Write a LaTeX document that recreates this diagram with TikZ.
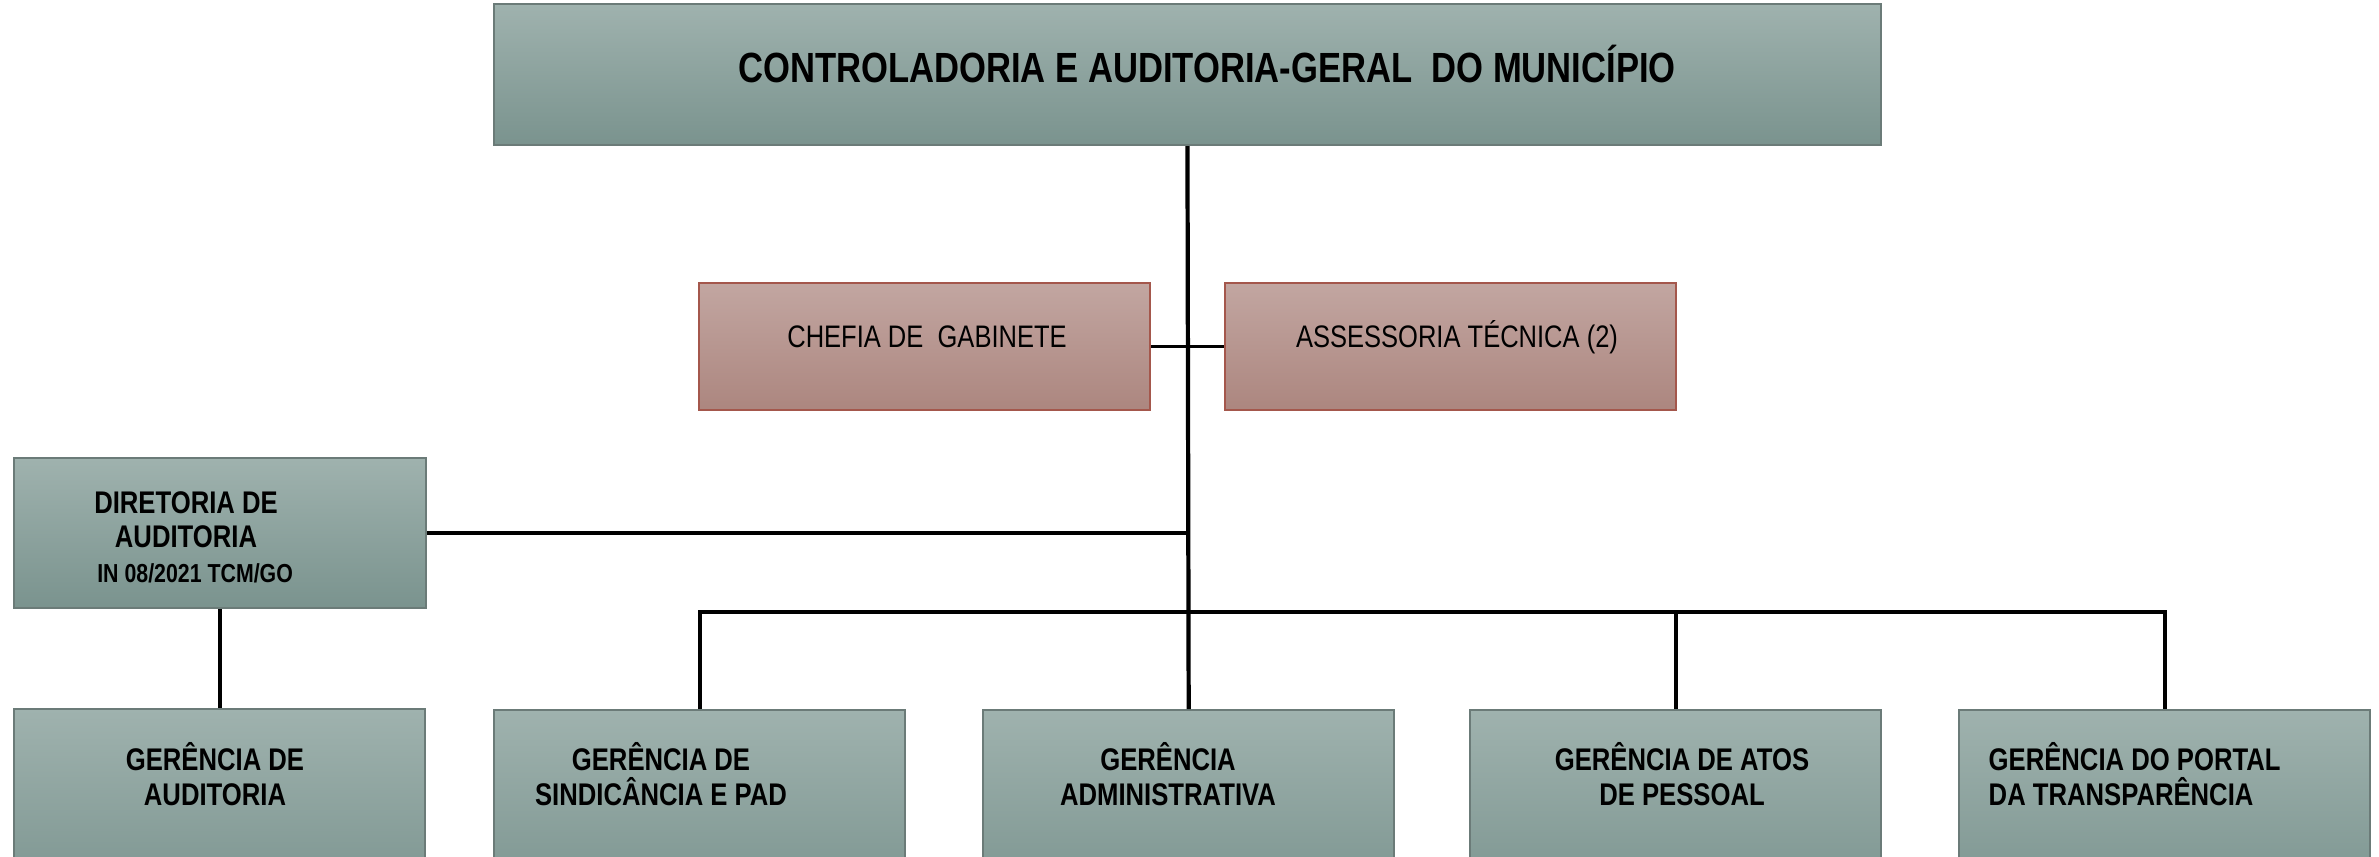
\documentclass[tikz,border=0pt]{standalone}
\usepackage{fontspec}
\setmainfont{Liberation Sans}[FakeStretch=0.82]
\usepackage{tikz}
\usetikzlibrary{calc}

\definecolor{unittop}{HTML}{9FB2AE}
\definecolor{unitbot}{HTML}{7A938E}
\definecolor{unitline}{HTML}{6B7B78}
\definecolor{stafftop}{HTML}{C2A6A1}
\definecolor{staffbot}{HTML}{AC867F}
\definecolor{staffline}{HTML}{A4574C}

\tikzset{
  unitbox/.style={draw=unitline, line width=0.6pt, top color=unittop, bottom color=unitbot,
    inner sep=0pt, anchor=north west},
  staffbox/.style={draw=staffline, line width=0.6pt, top color=stafftop, bottom color=staffbot,
    inner sep=0pt, anchor=north west},
  boxtext/.style={inner sep=0pt, anchor=base, align=center},
  link/.style={line width=1.2pt, black}
}

\begin{document}
\begin{tikzpicture}[x=0.01cm, y=-0.01cm]
\clip (0,0) rectangle (2379,856);

% boxes
\node[unitbox, minimum width=13.86cm, minimum height=1.41cm] (cgm) at (493,3) {};
\node[staffbox, minimum width=4.51cm, minimum height=1.27cm] (chefia) at (698,282) {};
\node[staffbox, minimum width=4.51cm, minimum height=1.27cm] (assess) at (1224,282) {};
\node[unitbox, minimum width=4.12cm, minimum height=1.50cm] (dir) at (13,457) {};
\node[unitbox, minimum width=4.11cm, minimum height=2.00cm] (gaud) at (13,708) {};
\node[unitbox, minimum width=4.11cm, minimum height=2.00cm] (sind) at (493,709) {};
\node[unitbox, minimum width=4.11cm, minimum height=2.00cm] (adm) at (982,709) {};
\node[unitbox, minimum width=4.11cm, minimum height=2.00cm] (atos) at (1469,709) {};
\node[unitbox, minimum width=4.11cm, minimum height=2.00cm] (portal) at (1958,709) {};

% texts (base = last line)
\node[boxtext, font=\bfseries\fontsize{12}{14}\selectfont] (cgm-t) at (1207,82)
  {CONTROLADORIA E AUDITORIA-GERAL~~DO MUNICÍPIO};
\node[boxtext, font=\fontsize{8.85}{10}\selectfont] (chefia-t) at (927,347) {CHEFIA DE~~GABINETE};
\node[boxtext, font=\fontsize{8.85}{10}\selectfont] (assess-t) at (1457,347) {ASSESSORIA TÉCNICA (2)};
\node[boxtext, font=\bfseries\fontsize{8.9}{9.7}\selectfont] (dir-t) at (186,582)
  {DIRETORIA DE\\AUDITORIA\\{\fontsize{7.4}{9.7}\selectfont\hspace{0.7em}IN 08/2021 TCM/GO}};
\node[boxtext, font=\bfseries\fontsize{8.9}{9.96}\selectfont] (gaud-t) at (215,805) {GERÊNCIA DE\\AUDITORIA};
\node[boxtext, font=\bfseries\fontsize{8.9}{9.96}\selectfont] (sind-t) at (661,805) {GERÊNCIA DE\\SINDICÂNCIA E PAD};
\node[boxtext, font=\bfseries\fontsize{8.9}{9.96}\selectfont] (adm-t) at (1168,805) {GERÊNCIA\\ADMINISTRATIVA};
\node[boxtext, font=\bfseries\fontsize{8.9}{9.96}\selectfont] (atos-t) at (1682,805) {GERÊNCIA DE ATOS\\DE PESSOAL};
\node[boxtext, font=\bfseries\fontsize{8.9}{9.96}\selectfont, align=left, anchor=base west] (portal-t) at (1988,805)
  {GERÊNCIA DO PORTAL\\DA TRANSPARÊNCIA};

% connectors
\coordinate (bus) at (0,612);
\draw[link] (cgm.south) -- (adm.north);
\draw[link, line width=0.9pt] (chefia.east) -- (assess.west);
\draw[link] (dir.east) -- (dir.east -| cgm.south);
\draw[link] (dir.south) -- (gaud.north -| dir.south);
\draw[link] (sind.north) |- (portal.north |- bus) -- (portal.north);
\draw[link] (atos.north) -- (atos.north |- bus);
\end{tikzpicture}
\end{document}
